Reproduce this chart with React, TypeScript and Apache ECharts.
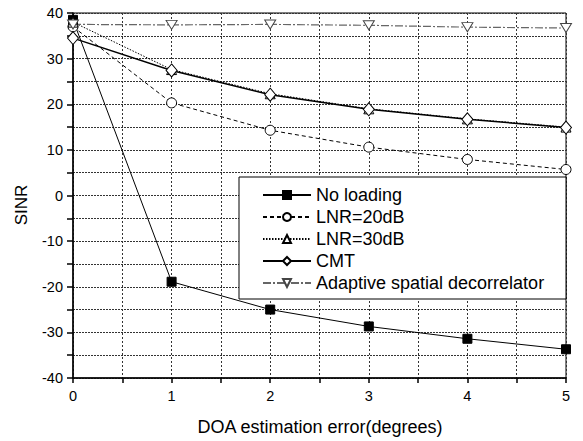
import React, { useEffect, useRef } from "react";
import * as echarts from "echarts";

const xValues = [0, 1, 2, 3, 4, 5];
const noLoading = [38.5, -18.9, -25.0, -28.7, -31.4, -33.7];
const lnr20 = [37.0, 20.3, 14.3, 10.6, 7.9, 5.7];
const lnr30 = [38.0, 27.6, 22.3, 19.0, 16.8, 15.0];
const cmt = [34.5, 27.4, 22.1, 18.9, 16.7, 14.9];
const asd = [37.5, 37.4, 37.5, 37.3, 36.9, 36.7];

const seriesNames = [
  "No loading",
  "LNR=20dB",
  "LNR=30dB",
  "CMT",
  "Adaptive spatial decorrelator",
];

const FONT = "Arial, 'Liberation Sans', sans-serif";

export default function App() {
  const ref = useRef<HTMLDivElement>(null);
  useEffect(() => {
    if (!ref.current) return;
    const chart = echarts.init(ref.current, undefined, { renderer: "svg" });
    const pts = (arr: number[]) => xValues.map((x, i) => [x, arr[i]]);
    const base = {
      type: "line",
      showSymbol: true,
      symbolKeepAspect: true,
      z: 3,
    };
    chart.setOption({
      animation: false,
      backgroundColor: "#fff",
      textStyle: { fontFamily: FONT },
      grid: {
        left: 73,
        right: 17,
        top: 13,
        bottom: 63,
        show: true,
        borderColor: "#000",
        borderWidth: 1,
      },
      graphic: [
        {
          type: "rect",
          z: 50,
          shape: { x: 239, y: 177, width: 327, height: 122 },
          style: { fill: "#fff", stroke: "#000", lineWidth: 1 },
        },
        {
          type: "text",
          z: 50,
          x: 21,
          y: 205,
          rotation: Math.PI / 2,
          style: {
            text: "SINR",
            fontFamily: FONT,
            fontSize: 17,
            fill: "#000",
            align: "center",
            verticalAlign: "middle",
          },
        },
        {
          type: "text",
          z: 50,
          x: 320,
          y: 427,
          style: {
            text: "DOA estimation error(degrees)",
            fontFamily: FONT,
            fontSize: 18,
            fill: "#000",
            align: "center",
            verticalAlign: "middle",
          },
        },
      ],
      legend: {
        z: 60,
        orient: "vertical",
        left: 257,
        top: 180,
        itemWidth: 48,
        itemHeight: 10,
        itemGap: 2,
        data: seriesNames,
        textStyle: { fontFamily: FONT, fontSize: 18, color: "#000", lineHeight: 20 },
      },
      xAxis: {
        type: "value",
        min: 0,
        max: 5,
        interval: 0.5,
        axisLine: { onZero: false, lineStyle: { color: "#000", width: 1.5 } },
        axisTick: { inside: false, length: 5, lineStyle: { color: "#000", width: 1.5 } },
        axisLabel: {
          margin: 10,
          fontFamily: FONT,
          fontSize: 14.5,
          color: "#000",
          formatter: (v: number) => (Number.isInteger(v) ? String(v) : ""),
        },
        splitLine: {
          show: true,
          lineStyle: { color: "#333", type: [2, 2], width: 1 },
        },
      },
      yAxis: {
        type: "value",
        min: -40,
        max: 40,
        interval: 5,
        axisLine: { show: true, onZero: false, lineStyle: { color: "#000", width: 1.5 } },
        axisTick: { show: true, inside: false, length: 6, lineStyle: { color: "#000", width: 1.5 } },
        axisLabel: {
          margin: 10,
          fontFamily: FONT,
          fontSize: 14.5,
          color: "#000",
          formatter: (v: number) => (v % 10 === 0 ? String(v) : ""),
        },
        splitLine: {
          show: true,
          lineStyle: { color: "#333", type: [2, 1], width: 1 },
        },
      },
      series: [
        {
          ...base,
          name: seriesNames[0],
          data: pts(noLoading),
          symbol: "rect",
          symbolSize: 9,
          itemStyle: { color: "#000", borderColor: "#000", borderWidth: 1 },
          lineStyle: { color: "#000", width: 1, type: "solid" },
        },
        {
          ...base,
          name: seriesNames[1],
          data: pts(lnr20),
          symbol: "circle",
          symbolSize: 10,
          itemStyle: { color: "#fff", borderColor: "#000", borderWidth: 1 },
          lineStyle: { color: "#000", width: 1, type: [4, 3] },
        },
        {
          ...base,
          name: seriesNames[2],
          data: pts(lnr30),
          symbol: "triangle",
          symbolSize: 10,
          itemStyle: { color: "#fff", borderColor: "#000", borderWidth: 1 },
          lineStyle: { color: "#000", width: 1, type: [1.5, 1.5] },
        },
        {
          ...base,
          name: seriesNames[3],
          data: pts(cmt),
          symbol: "diamond",
          symbolSize: [11, 13],
          itemStyle: { color: "#fff", borderColor: "#000", borderWidth: 1 },
          lineStyle: { color: "#000", width: 1.5, type: "solid" },
        },
        {
          ...base,
          name: seriesNames[4],
          data: pts(asd),
          symbol: "path://M0,0 L10,0 L5,9 Z",
          symbolSize: [11, 10],
          itemStyle: { color: "#fff", borderColor: "#444", borderWidth: 1 },
          lineStyle: { color: "#666", width: 1.2, type: [8, 2, 2, 2] },
        },
      ],
    });
    return () => chart.dispose();
  }, []);
  return (
    <div
      ref={ref}
      style={{ position: "absolute", left: 0, top: 0, width: 583, height: 441 }}
    />
  );
}
